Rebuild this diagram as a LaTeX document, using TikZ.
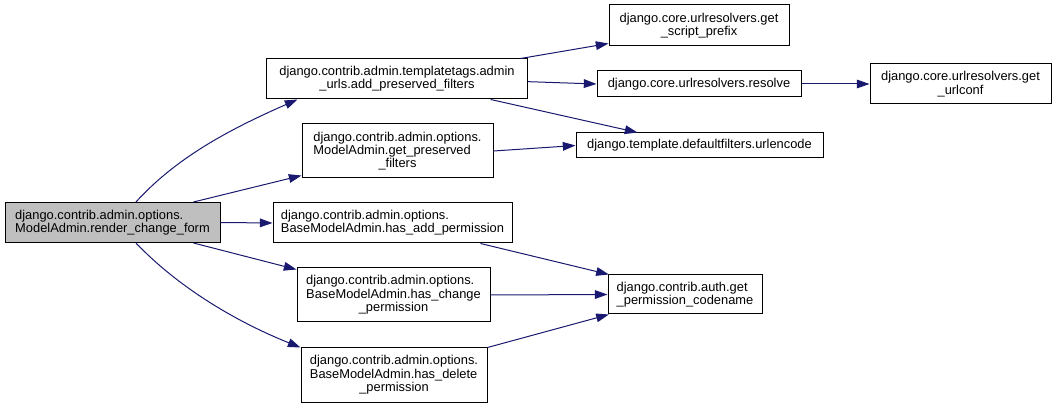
\documentclass[tikz,border=0pt]{standalone}
\usepackage{fontspec}
\setmainfont{Liberation Sans}
\usetikzlibrary{arrows.meta}

\definecolor{edgeblue}{HTML}{191970}
\definecolor{rootgray}{HTML}{BFBFBF}
\newcommand{\leftpair}[2]{\begin{tabular}[b]{@{}l@{}}#1\\#2\end{tabular}}

\tikzset{
  fn/.style={draw=black, line width=0.75pt, inner sep=0pt, align=center,
    font=\fontsize{9.65}{10}\selectfont},
  edge/.style={draw=edgeblue, line width=0.75pt, -{Triangle[length=9.5pt,width=6.5pt]}},
}

\begin{document}
\begin{tikzpicture}[x=0.75pt, y=-0.75pt]
      \useasboundingbox (0,0) rectangle (1056,409);

      % caller
      \node(root) [fn, fill=rootgray, align=left, minimum width=161.25pt, minimum height=30pt] at (112.5,222.5)
        {django.contrib.admin.options.\\ModelAdmin.render\_change\_form};

      % callees
      \node(apf) [fn, minimum width=195.75pt, minimum height=30pt] at (397,79)
        {django.contrib.admin.templatetags.admin\\\_urls.add\_preserved\_filters};
      \node(gpf) [fn, minimum width=143.25pt, minimum height=40.5pt] at (397.5,151)
        {\leftpair{django.contrib.admin.options.}{ModelAdmin.get\_preserved}\\\_filters};
      \node(hasadd) [fn, align=left, minimum width=179.25pt, minimum height=30pt] at (392.5,223)
        {django.contrib.admin.options.\\BaseModelAdmin.has\_add\_permission};
      \node(haschange) [fn, minimum width=144.75pt, minimum height=40.5pt] at (393.5,295)
        {\leftpair{django.contrib.admin.options.}{BaseModelAdmin.has\_change}\\\_permission};
      \node(hasdelete) [fn, minimum width=139.5pt, minimum height=40.5pt] at (394,375)
        {\leftpair{django.contrib.admin.options.}{BaseModelAdmin.has\_delete}\\\_permission};

      \node(gsp) [fn, minimum width=135pt, minimum height=30.75pt] at (699,25.5)
        {django.core.urlresolvers.get\\\_script\_prefix};
      \node(resolve) [fn, minimum width=153pt, minimum height=19.5pt] at (699,84)
        {django.core.urlresolvers.resolve};
      \node(urlencode) [fn, minimum width=185.25pt, minimum height=18.75pt] at (699.5,145.5)
        {django.template.defaultfilters.urlencode};
      \node(codename) [fn, align=left, minimum width=115.5pt, minimum height=29.25pt] at (685,294.5)
        {django.contrib.auth.get\\\_permission\_codename};
      \node(urlconf) [fn, minimum width=135.75pt, minimum height=30pt] at (960.5,84)
        {django.core.urlresolvers.get\\\_urlconf};

      % calls from the caller
      \draw [edge] ([xshift=17.6pt]root.north) .. controls (176,158) and (228,130) .. ([xshift=23.6pt]apf.south west);
      \draw [edge] ([xshift=-20.25pt]root.north east) -- ([yshift=2.25pt]gpf.south west);
      \draw [edge] (root.east) -- (hasadd.west);
      \draw [edge] ([xshift=-20.25pt]root.south east) -- ([yshift=-1.5pt]haschange.north west);
      \draw [edge] ([xshift=17.6pt]root.south) .. controls (176,285) and (232,320) .. (hasdelete.north west);

      % further calls
      \draw [edge] ([xshift=-5.6pt]apf.north east) -- ([yshift=2.25pt]gsp.south west);
      \draw [edge] ([yshift=-2pt]apf.east) -- (resolve.west);
      \draw [edge] ([xshift=-28pt]apf.south east) -- ([xshift=46.5pt]urlencode.north west);
      \draw [edge] (gpf.east) -- (urlencode.west);
      \draw [edge] (resolve.east) -- (urlconf.west);
      \draw [edge] ([xshift=-24pt]hasadd.south east) -- ([xshift=1pt]codename.north west);
      \draw [edge] (haschange.east) -- (codename.west);
      \draw [edge] (hasdelete.north east) -- ([xshift=1pt]codename.south west);

    \end{tikzpicture}
\end{document}
